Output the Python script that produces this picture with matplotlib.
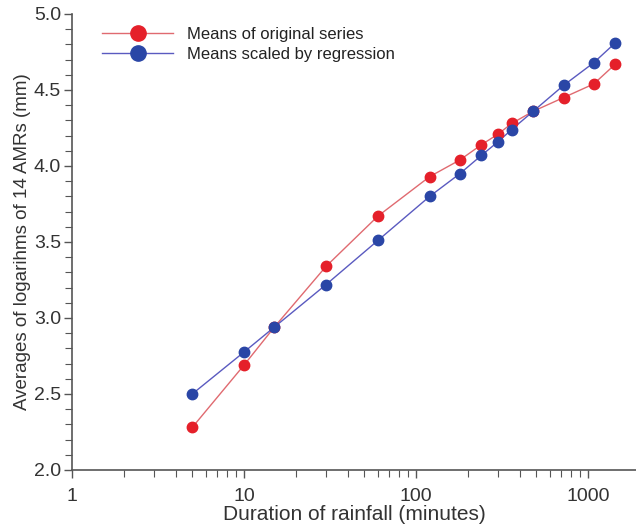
import numpy as np
import matplotlib.pyplot as plt
from matplotlib.ticker import MultipleLocator, LogLocator, NullFormatter, FixedLocator, FixedFormatter

plt.rcParams['font.family'] = ['Liberation Sans', 'DejaVu Sans']

# durations (minutes)
duration = [5, 10, 15, 30, 60, 120, 180, 240, 300, 360, 480, 720, 1080, 1440]
# means of original series
orig = [2.28, 2.69, 2.94, 3.34, 3.67, 3.93, 4.04, 4.14, 4.21, 4.28, 4.36, 4.45, 4.54, 4.67]
# means scaled by regression
scaled = [2.50, 2.776, 2.94, 3.22, 3.51, 3.80, 3.95, 4.07, 4.16, 4.24, 4.36, 4.53, 4.68, 4.81]

red = '#e5202a'
blue = '#2a46a6'
axcol = '#555555'

fig = plt.figure(figsize=(6.36, 5.31), dpi=100)
ax = fig.add_axes([72/636, 61/531, 1 - 72/636, (470-14)/531])

ax.plot(duration, orig, '-', color='#e06a70', lw=1.0, zorder=2)
ax.plot(duration, scaled, '-', color='#5a5ac0', lw=1.0, zorder=2)
ax.plot(duration, orig, 'o', color=red, ms=7.5, zorder=3)
ax.plot(duration, scaled, 'o', color=blue, ms=7.5, zorder=3)

# legend handles
h1, = ax.plot([], [], '-o', color='#e06a70', mfc=red, mec=red, ms=11, lw=1.0)
h2, = ax.plot([], [], '-o', color='#5a5ac0', mfc=blue, mec=blue, ms=11, lw=1.0)
leg = ax.legend([h1, h2], ['Means of original series', 'Means scaled by regression'],
                loc='upper left', bbox_to_anchor=(0.035, 0.993), frameon=False,
                fontsize=12, handlelength=4.3, handletextpad=0.8, labelspacing=0.3,
                borderaxespad=0.2)
for t in leg.get_texts():
    t.set_color('#222222')

ax.set_xscale('log')
ax.set_xlim(1, 1900)
ax.set_ylim(2.0, 5.0)
ax.xaxis.set_major_locator(FixedLocator([1, 10, 100, 1000]))
ax.xaxis.set_major_formatter(FixedFormatter(['1', '10', '100', '1000']))
ax.xaxis.set_minor_locator(LogLocator(base=10, subs=np.arange(2, 10)))
ax.xaxis.set_minor_formatter(NullFormatter())
ax.yaxis.set_major_locator(MultipleLocator(0.5))
ax.yaxis.set_minor_locator(MultipleLocator(0.1))
ax.yaxis.set_major_formatter(plt.FuncFormatter(lambda v, p: f'{v:.1f}'))

for s in ['top', 'right']:
    ax.spines[s].set_visible(False)
for s in ['left', 'bottom']:
    ax.spines[s].set_color(axcol)
    ax.spines[s].set_linewidth(1.2)

ax.tick_params(which='major', length=6, width=1, color=axcol, labelsize=14, labelcolor='#333333')
ax.tick_params(which='minor', length=5, width=0.8, color=axcol)
ax.tick_params(axis='x', which='major', pad=7)
ax.tick_params(axis='y', which='major', pad=2)

ax.set_xlabel('Duration of rainfall (minutes)', fontsize=15, color='#333333', labelpad=0)
ax.set_ylabel('Averages of logarihms of 14 AMRs (mm)', fontsize=13.5, color='#333333', labelpad=2)

fig.savefig('out.png', dpi=100)
